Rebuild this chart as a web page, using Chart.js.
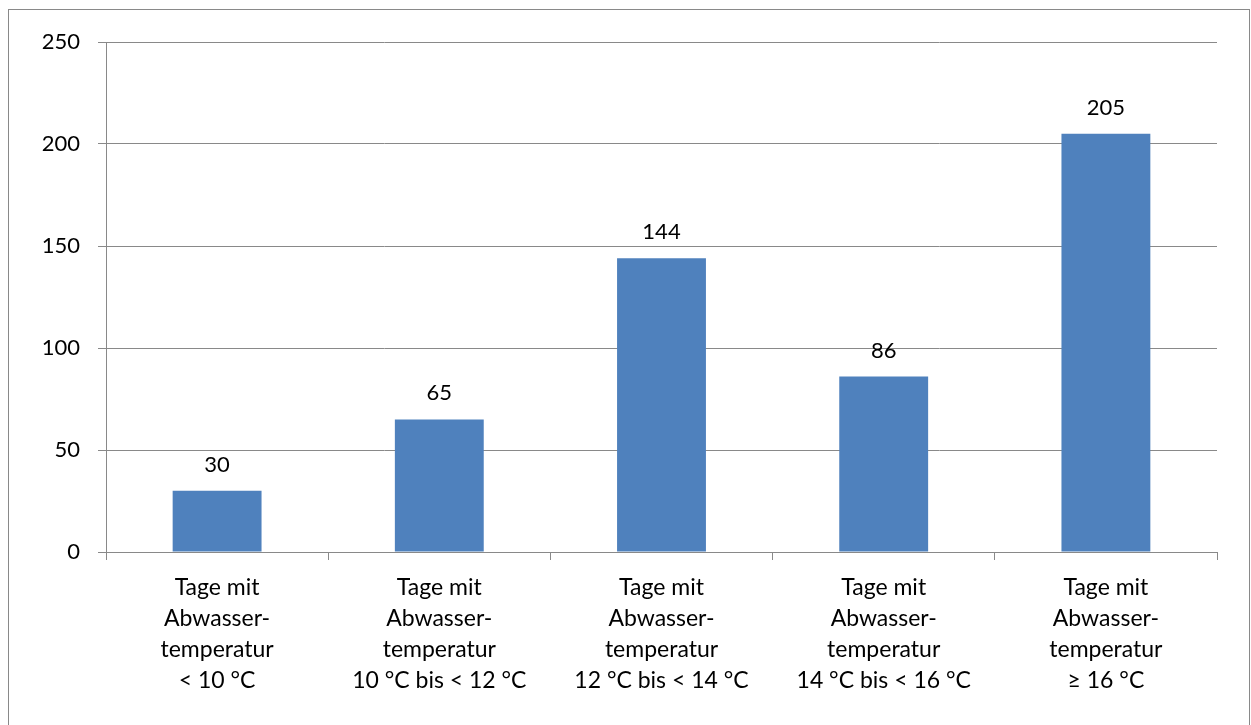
<!DOCTYPE html>
<html lang="de">
<head>
    <meta charset="UTF-8">
    <title>Tage mit Abwassertemperatur</title>
    <style>
        body { margin: 0; background: #fff; }
        .frame {
            position: absolute;
            left: 8px; top: 9px;
            width: 1240px; height: 740px;
            border: 1px solid #898989;
        }
        canvas { position: absolute; left: 0; top: 0; }
    </style>
    <script src="https://cdn.jsdelivr.net/npm/chart.js"></script>
</head>
<body>
    <div class="frame"></div>
    <canvas id="chart" width="1251" height="725"></canvas>

    <script>
        // data
        const categories = [
            ['Tage mit', 'Abwasser-', 'temperatur', '< 10 °C'],
            ['Tage mit', 'Abwasser-', 'temperatur', '10 °C bis < 12 °C'],
            ['Tage mit', 'Abwasser-', 'temperatur', '12 °C bis < 14 °C'],
            ['Tage mit', 'Abwasser-', 'temperatur', '14 °C bis < 16 °C'],
            ['Tage mit', 'Abwasser-', 'temperatur', '≥ 16 °C']
        ];
        const days = [30, 65, 144, 86, 205];
        const yTicks = [0, 50, 100, 150, 200, 250];

        const FONT = 'Lato, "Open Sans", sans-serif';
        const GRID = '#898989';

        // value labels above the bars
        const barLabels = {
            id: 'barLabels',
            afterDatasetsDraw(chart) {
                const ctx = chart.ctx;
                ctx.save();
                ctx.font = '22px ' + FONT;
                ctx.fillStyle = '#000';
                ctx.textAlign = 'center';
                ctx.textBaseline = 'alphabetic';
                chart.getDatasetMeta(0).data.forEach((bar, i) => {
                    ctx.fillText(days[i], bar.x, bar.y - 19);
                });
                ctx.restore();
            }
        };

        new Chart(document.getElementById('chart'), {
            type: 'bar',
            data: {
                labels: categories,
                datasets: [{
                    data: days,
                    backgroundColor: '#4F81BD',
                    barPercentage: 0.4,
                    categoryPercentage: 1
                }]
            },
            options: {
                responsive: false,
                animation: false,
                layout: { padding: { top: 42, right: 34, left: 0, bottom: 0 } },
                plugins: {
                    legend: { display: false },
                    tooltip: { enabled: false }
                },
                scales: {
                    x: {
                        grid: {
                            drawOnChartArea: false,
                            drawTicks: true,
                            tickLength: 8,
                            color: GRID
                        },
                        border: { color: GRID, width: 1 },
                        ticks: {
                            color: '#000',
                            font: { family: FONT, size: 23, lineHeight: 1.35 },
                            padding: 12,
                            maxRotation: 0,
                            autoSkip: false
                        },
                        afterFit(scale) { scale.height = 173; }
                    },
                    y: {
                        min: 0,
                        max: 250,
                        afterBuildTicks(scale) {
                            scale.ticks = yTicks.map(v => ({ value: v }));
                        },
                        grid: { color: GRID, tickLength: 8 },
                        border: { color: GRID, width: 1 },
                        ticks: {
                            color: '#000',
                            font: { family: FONT, size: 22 },
                            padding: 18
                        },
                        afterFit(scale) { scale.width = 106; }
                    }
                }
            },
            plugins: [barLabels]
        });
    </script>
</body>
</html>
